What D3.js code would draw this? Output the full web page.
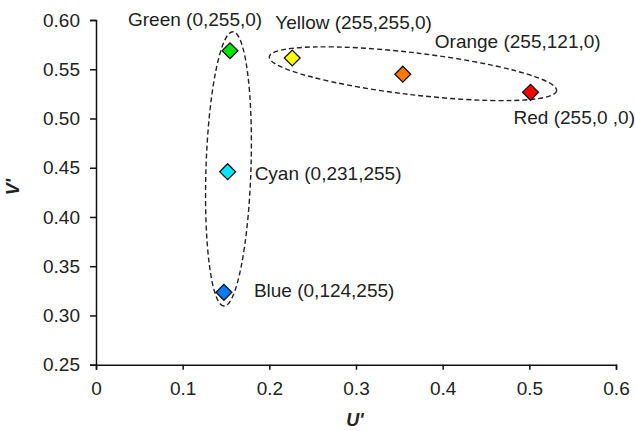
<!DOCTYPE html>
<html><head><meta charset="utf-8">
<script src="https://cdn.jsdelivr.net/npm/d3@7"></script>
<style>body{margin:0;background:#fff}svg{display:block}text{font-family:"Liberation Sans",Arial,sans-serif;fill:#222}</style>
</head><body><svg id="c" width="635" height="431"></svg>
<script>
const names = ["Green","Yellow","Orange","Red","Cyan","Blue"];
const labels = ["Green (0,255,0)","Yellow (255,255,0)","Orange (255,121,0)","Red (255,0 ,0)","Cyan (0,231,255)","Blue (0,124,255)"];
const uValues = [0.1546,0.2264,0.354,0.5014,0.1519,0.1476];
const vValues = [0.5688,0.5614,0.545,0.5266,0.446,0.3235];
const fillColors = ["rgb(0,230,0)","rgb(255,255,0)","rgb(255,121,0)","rgb(255,0,0)","rgb(0,231,255)","rgb(0,124,255)"];
const xTicks = [0,0.1,0.2,0.3,0.4,0.5,0.6];
const yTicks = [0.25,0.30,0.35,0.40,0.45,0.50,0.55,0.60];
// group ellipses: major-axis endpoints in data units
const groupU1 = [0.158,0.200];
const groupV1 = [0.5881,0.5627];
const groupU2 = [0.1477,0.5315];
const groupV2 = [0.3096,0.5282];

const labelOffsets = [[-102,-25],[-17,-29],[32,-26],[-17,32],[27,8],[30,5]];
const ellipseMinor = [22.5,21];
const FS = "19px";

const svg = d3.select("#c");
const x = d3.scaleLinear().domain([0,0.6]).range([96,616]);
const y = d3.scaleLinear().domain([0.25,0.6]).range([364.7,20]);

const xAxis = svg.append("g").attr("transform","translate(0,364.7)")
  .call(d3.axisBottom(x).tickValues(xTicks).tickSize(5).tickPadding(12).tickFormat(d=>d===0?"0":d3.format(".1f")(d)));
const yAxis = svg.append("g").attr("transform","translate(96,0)")
  .call(d3.axisLeft(y).tickValues(yTicks).tickSize(6).tickPadding(10).tickFormat(d3.format(".2f")));
[xAxis,yAxis].forEach(g=>{
  g.select(".domain").attr("stroke","#111").attr("stroke-width",1.5);
  g.selectAll(".tick line").attr("stroke","#111").attr("stroke-width",1.5);
  g.selectAll(".tick text").attr("font-size",FS).attr("fill","#222").attr("font-family",'"Liberation Sans",Arial,sans-serif');
});

// ellipses
groupU1.forEach((u1,i)=>{
  const x1=x(u1), y1=y(groupV1[i]), x2=x(groupU2[i]), y2=y(groupV2[i]);
  const cx=(x1+x2)/2, cy=(y1+y2)/2;
  const a=Math.hypot(x2-x1,y2-y1)/2;
  const ang=Math.atan2(y2-y1,x2-x1)*180/Math.PI;
  svg.append("ellipse").attr("cx",0).attr("cy",0).attr("rx",a).attr("ry",ellipseMinor[i])
    .attr("transform",`translate(${cx},${cy}) rotate(${ang})`)
    .attr("fill","none").attr("stroke","#222").attr("stroke-width",1.4).attr("stroke-dasharray","5,3");
});

names.forEach((n,i)=>{
  const px=x(uValues[i]), py=y(vValues[i]);
  svg.append("rect").attr("x",-5.6).attr("y",-5.6).attr("width",11.2).attr("height",11.2)
    .attr("transform",`translate(${px},${py}) rotate(45)`)
    .attr("fill",fillColors[i]).attr("stroke","#111").attr("stroke-width",1.3);
  svg.append("text").attr("x",px+labelOffsets[i][0]).attr("y",py+labelOffsets[i][1])
    .attr("font-size",FS).text(labels[i]);
});

svg.append("text").attr("x",355).attr("y",426).attr("text-anchor","middle")
  .attr("font-size","18px").attr("font-weight","bold").attr("font-style","italic").text("U'");
svg.append("text").attr("transform","translate(19,187) rotate(-90)").attr("text-anchor","middle")
  .attr("font-size","18px").attr("font-weight","bold").attr("font-style","italic").text("V'");
</script></body></html>
